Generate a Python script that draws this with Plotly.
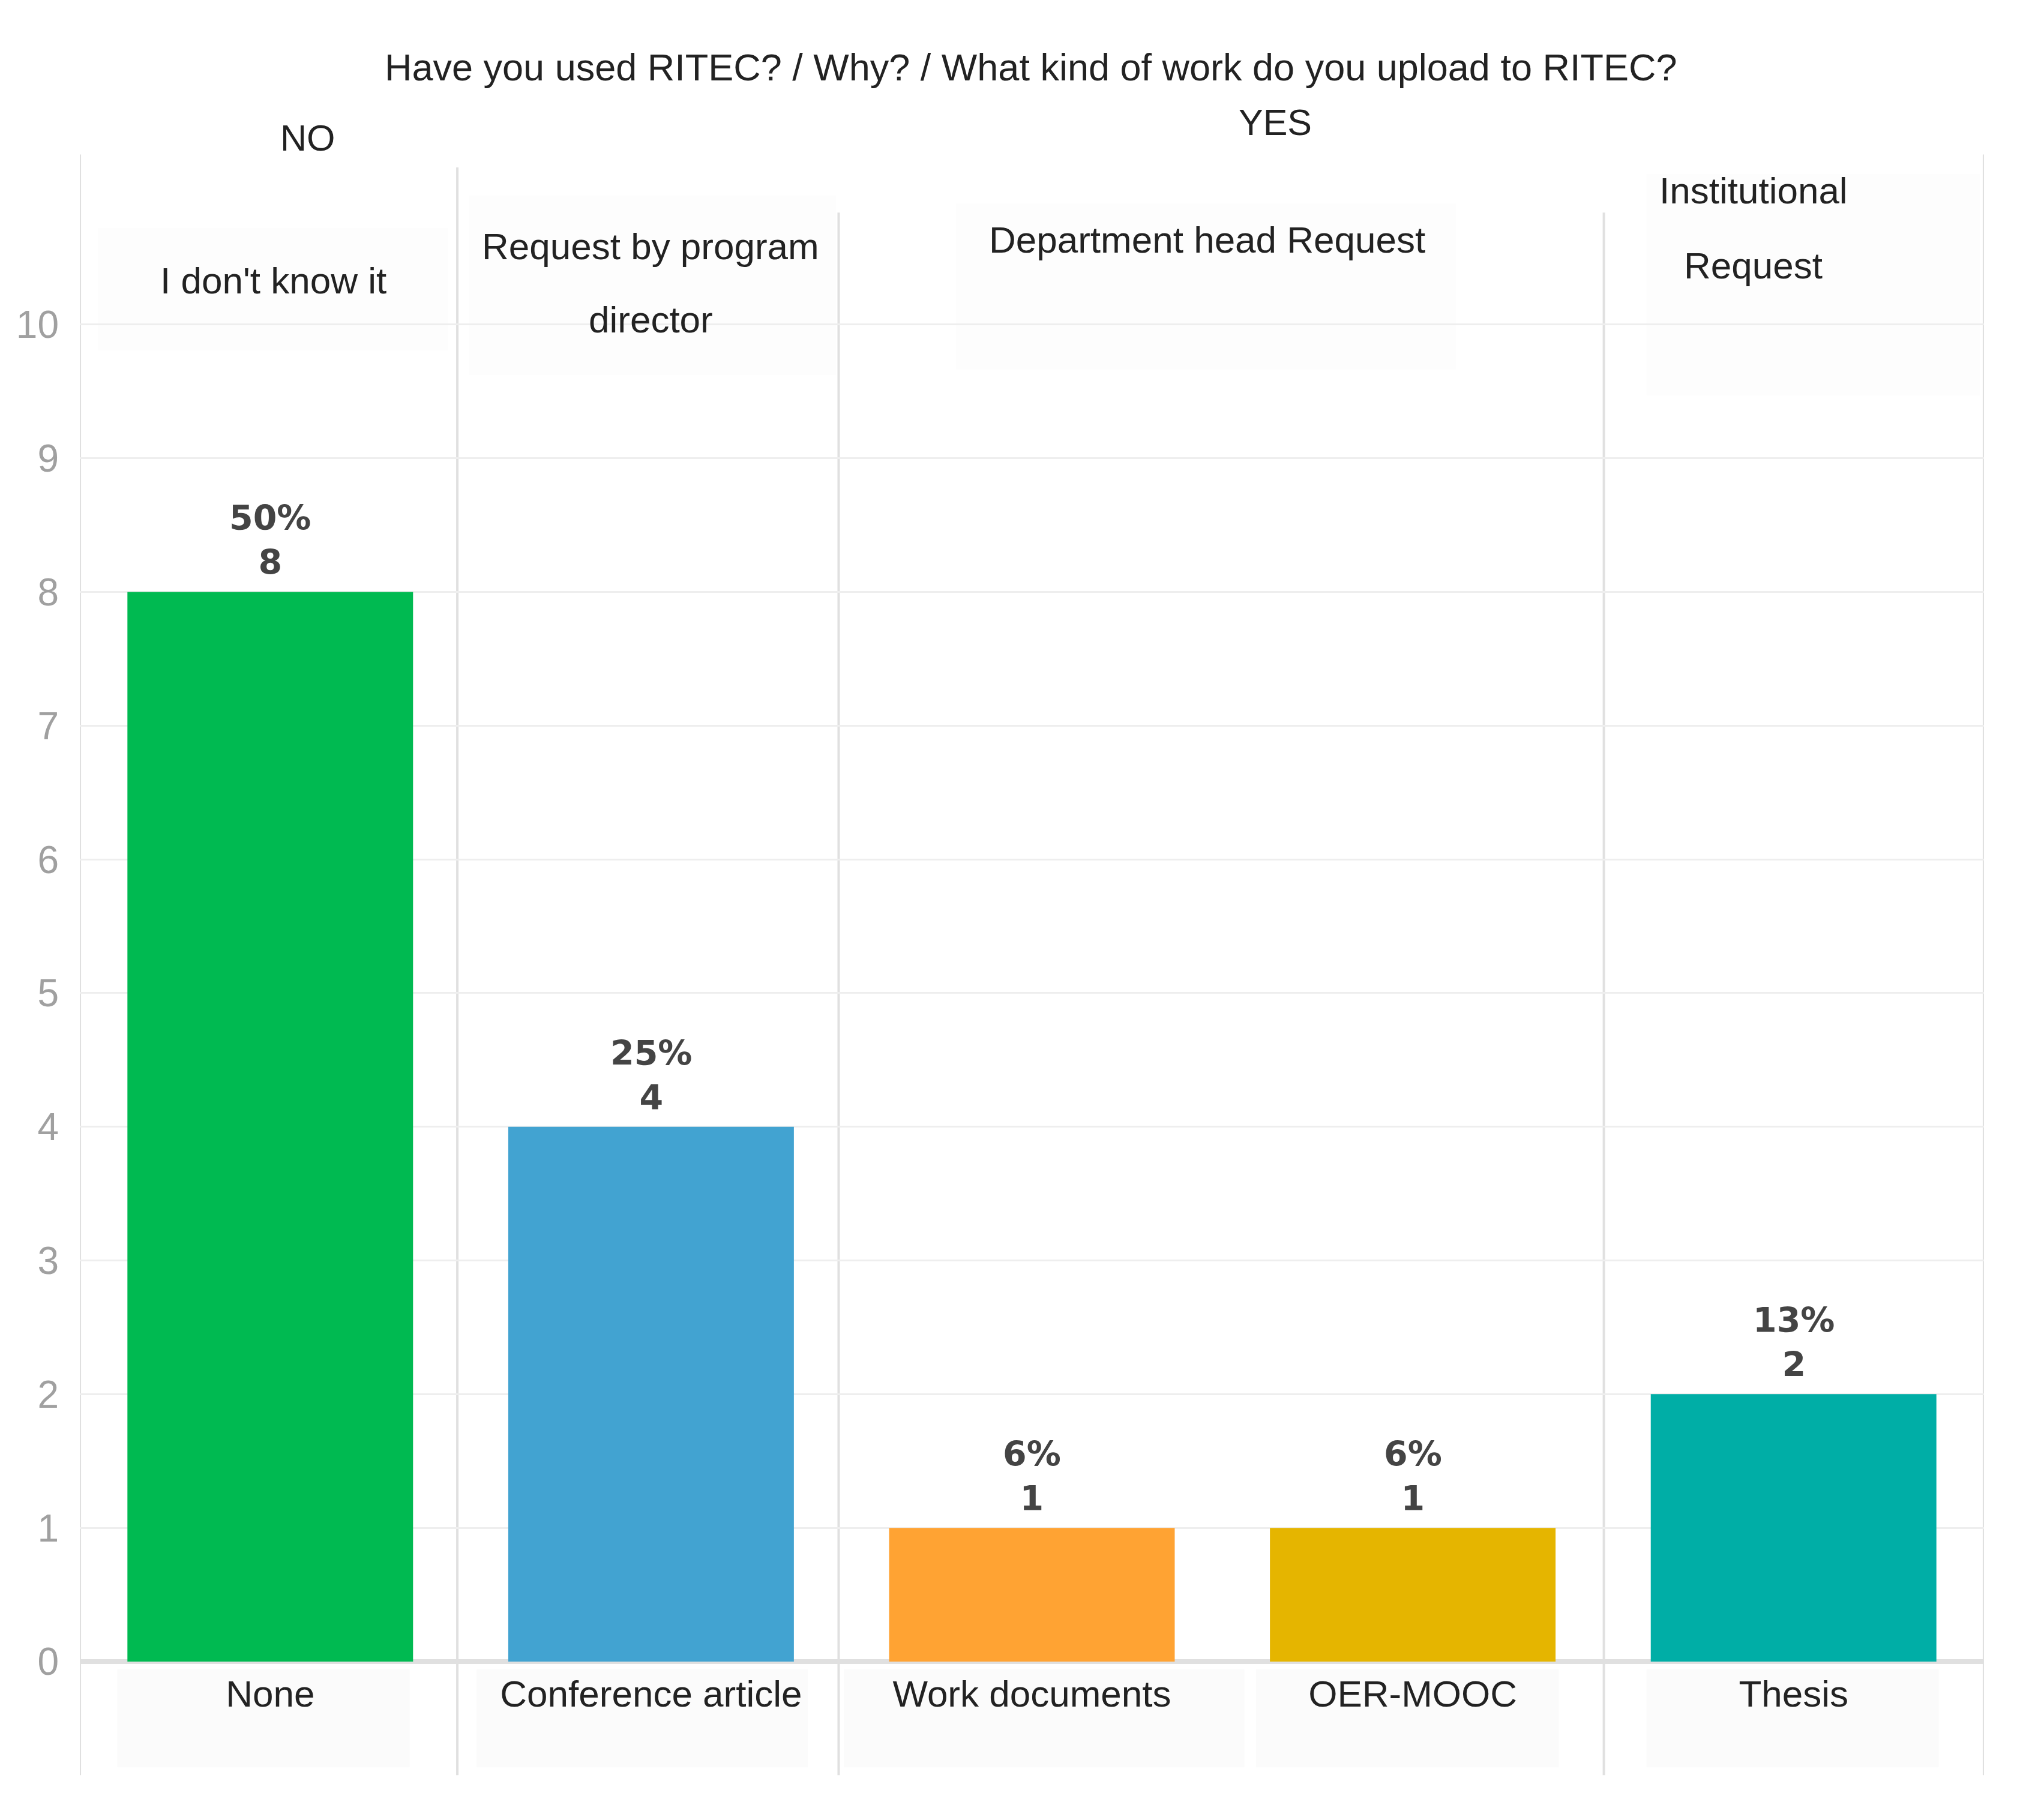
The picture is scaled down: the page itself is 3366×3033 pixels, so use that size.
"""Bar chart: RITEC usage / reason / kind of work uploaded."""

import plotly.graph_objects as go

# ---- data -----------------------------------------------------------------
categories = ["None", "Conference article", "Work documents", "OER-MOOC", "Thesis"]
counts = [8, 4, 1, 1, 2]
percents = [50, 25, 6, 6, 13]
bar_colors = ["#00BA51", "#42A3D1", "#FFA333", "#E5B500", "#00AEA6"]

reasons = ["I don't know it", "Request by program director", "Department head Request",
           "Institutional Request"]
groups = ["NO", "YES"]
title = "Have you used RITEC? / Why? / What kind of work do you upload to RITEC?"
y_ticks = list(range(0, 11))

# ---- geometry (reference was measured on a 1568 px wide preview) ---------
W, H = 3366, 3033
SC = W / 1568
OFF = 8  # page body margin
L, R, T, B = 125, 68, 466, 272
PLOT_H = H - T - B
BASE_Y = H - B + OFF


def py(ys):
    """preview y -> paper y"""
    return (BASE_Y - ys * SC) / PLOT_H


def dx(xs):
    """preview x -> category axis coordinate"""
    return (xs * SC - OFF - L) / ((W - L - R) / 5) - 0.5


FONT = "Liberation Sans, Arial, sans-serif"

fig = go.Figure(
    go.Bar(
        x=categories,
        y=counts,
        marker=dict(color=bar_colors, line=dict(width=0)),
        width=0.75,
        hoverinfo="skip",
    )
)

# value labels above the bars
for cat, n, p in zip(categories, counts, percents):
    fig.add_annotation(
        x=cat, y=n, xref="x", yref="y", text=f"{p}%<br>{n}", showarrow=False,
        xanchor="center", yanchor="bottom", yshift=14,
        font=dict(family="DejaVu Sans, sans-serif", size=57, color="#444444", weight="bold"),
    )

shapes = []
# faint header boxes (they hide the top gridline)
for x0, x1, y0, y1 in [(76, 348, 177, 272), (364, 649, 152, 291),
                       (742, 1130, 158, 287), (1278, 1537, 135, 307)]:
    shapes.append(dict(type="rect", xref="x", yref="paper", x0=dx(x0), x1=dx(x1),
                       y0=py(y1), y1=py(y0), fillcolor="#FDFDFD", line_width=0, layer="between"))
# faint boxes behind the category labels
for x0, x1 in [(91, 318), (370, 627), (655, 966), (975, 1210), (1278, 1505)]:
    shapes.append(dict(type="rect", xref="x", yref="paper", x0=dx(x0), x1=dx(x1),
                       y0=py(1372), y1=py(1296), fillcolor="#FBFBFB", line_width=0, layer="below"))
# column separators
for xs, top in [(62, 120), (355, 130), (651, 165), (1245, 165), (1540, 120)]:
    shapes.append(dict(type="line", xref="x", yref="paper", x0=dx(xs), x1=dx(xs),
                       y0=py(1378), y1=py(top), line=dict(color="#E0E0E0", width=4),
                       layer="between"))

headers = [
    (title, 800, 52, 63),
    (groups[0], 239, 107, 61),
    (groups[1], 990, 95, 61),
    (reasons[0], 212, 218, 62),
    ("Request by program", 505, 191, 62),
    ("director", 505, 248, 62),
    (reasons[2], 937, 186, 62),
    ("Institutional", 1361, 148, 62),
    ("Request", 1361, 206, 62),
]
for text, xs, ys, size in headers:
    fig.add_annotation(
        text=text, x=dx(xs), y=py(ys), xref="x", yref="paper", showarrow=False,
        xanchor="center", yanchor="middle",
        font=dict(family=FONT, size=size, color="#222222"),
    )

fig.update_layout(
    width=W,
    height=H,
    margin=dict(l=L, r=R, t=T, b=B, pad=0),
    paper_bgcolor="white",
    plot_bgcolor="white",
    showlegend=False,
    shapes=shapes,
    xaxis=dict(
        range=[-0.5, 4.5],
        showgrid=False,
        showline=False,
        ticks="",
        tickfont=dict(family=FONT, size=62, color="#222222"),
        ticklabelstandoff=12,
    ),
    yaxis=dict(
        range=[0, 10.3],
        tickvals=y_ticks,
        showgrid=True,
        gridcolor="#EEEEEE",
        gridwidth=3,
        zeroline=True,
        zerolinecolor="#E0E0E0",
        zerolinewidth=8,
        showline=False,
        ticks="",
        tickfont=dict(family=FONT, size=64, color="#A0A0A0"),
        ticklabelstandoff=34,
    ),
)

fig.write_html("out.html")
